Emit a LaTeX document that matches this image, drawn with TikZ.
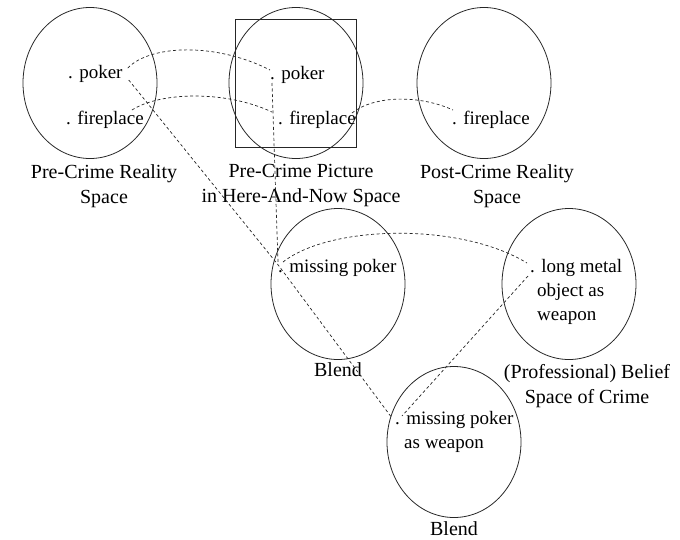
\documentclass[tikz,border=0pt]{standalone}
\usepackage{fontspec}
\setmainfont{Liberation Serif}
\usetikzlibrary{shapes.geometric,calc}
\begin{document}
\begin{tikzpicture}[x=1pt,y=-1pt,
  spacecirc/.style={draw=black!85, line width=0.8pt, ellipse, inner sep=0,
    minimum width=134pt, minimum height=151pt},
  item/.style={font=\fontsize{19}{24}\selectfont, inner sep=0, anchor=north west, align=left},
  caption/.style={font=\fontsize{20}{25}\selectfont, inner sep=0, anchor=north, align=center},
  link/.style={dash pattern=on 3pt off 2.5pt, line width=0.7pt, black!85}]
\useasboundingbox (0,0) rectangle (680,539);

% mental spaces
\node[spacecirc] (c1) at (90,83) {};
\node[spacecirc] (c2) at (296,83) {};
\node[spacecirc] (c3) at (484,83) {};
\node[spacecirc] (b1) at (338,284) {};
\node[spacecirc] (bel) at (569,284) {};
\node[spacecirc] (b2) at (454,442) {};
\node[draw=black!85, line width=1pt, inner sep=0, minimum width=121pt, minimum height=128pt] (frame) at (295.5,83) {};

% elements
\node[item] (p1) at (68,65) {. poker};
\node[item] (f1) at (66,111) {. fireplace};
\node[item] (p2) at (270,66) {. poker};
\node[item] (f2) at (278,111) {. fireplace};
\node[item] (f3) at (452,111) {. fireplace};
\node[item] (m1) at (278,259) {. missing poker};
\node[item] (l1) at (530,259) {. long metal\\\hspace*{7pt}object as\\\hspace*{7pt}weapon};
\node[item] (m2) at (395,411) {. missing poker\\\hspace*{9pt}as weapon};

% space names
\node[caption] (n1) at (104,164) {Pre-Crime Reality\\Space};
\node[caption] (n2) at (301,164) {Pre-Crime Picture\\in Here-And-Now Space};
\node[caption] (n3) at (497,164) {Post-Crime Reality\\Space};
\node[caption] (n4) at (338,362) {Blend};
\node[caption] (n5) at (587,364) {(Professional) Belief\\Space of Crime};
\node[caption] (n6) at (454,521) {Blend};

% cross-space mappings
\draw[link] ($(p1.north east)+(5,3)$) .. controls (150,45) and (215,42) .. ($(p2.north west)+(0,4)$);
\draw[link] ($(f1.north east)+(-12,-1)$) .. controls (160,92) and (225,90) .. ($(f2.north west)+(-6,1)$);
\draw[link] ($(f2.north east)+(-4,2)$) .. controls (375,95) and (420,95) .. ($(f3.north west)+(1,-1)$);
\draw[link] ($(p2.north west)+(2,17)$) -- ($(m1.north west)+(0,3)$);
\draw[link] ($(p1.north east)+(6,15)$) -- ($(m1.north west)+(1,7)$) -- ($(m2.north west)+(-3,7)$);
\draw[link] ($(m1.north west)+(5,3)$) .. controls (330,225) and (460,222) .. ($(l1.north west)+(-3,4)$);
\draw[link] ($(l1.north west)+(-2,17)$) -- ($(m2.north west)+(7,5)$);
\end{tikzpicture}
\end{document}
